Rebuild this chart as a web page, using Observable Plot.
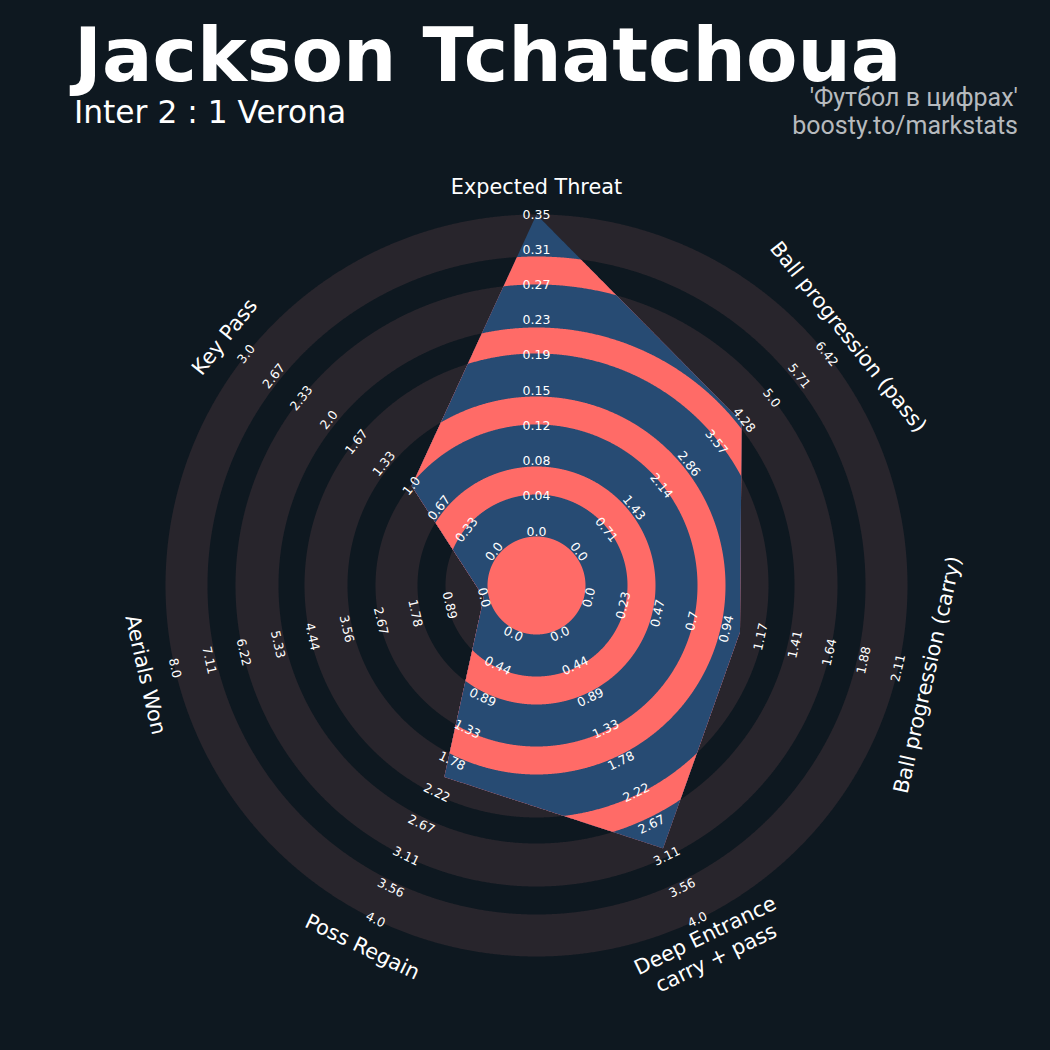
<!DOCTYPE html>
<html><head><meta charset="utf-8">
<script src="https://cdn.jsdelivr.net/npm/d3@7"></script>
<script src="https://cdn.jsdelivr.net/npm/@observablehq/plot@0.6"></script>
<style>
html,body{margin:0;padding:0;background:#0e1820;}
#wrap{position:relative;width:1050px;height:1050px;overflow:hidden;background:#0e1820;}
#chart{position:absolute;left:0;top:0;}
.t{position:absolute;white-space:nowrap;line-height:1;}
#title{left:74px;top:11px;font:bold 75px "DejaVu Sans";color:#ffffff;}
#sub{left:74px;top:94px;font:31.3px "DejaVu Sans";color:#ffffff;}
.cr{right:32px;text-align:right;font:25px Roboto;color:#b6babe;}
</style></head><body>
<div id="wrap">
<div id="chart"></div>
<div class="t" id="title">Jackson Tchatchoua</div>
<div class="t" id="sub">Inter 2 : 1 Verona</div>
<div class="t cr" style="top:83px">'Футбол в цифрах'</div>
<div class="t cr" style="top:111px">boosty.to/markstats</div>
</div>
<script>
// ---- data ----
const params = ["Expected Threat", "Ball progression (pass)", "Ball progression (carry)", "Deep Entrance\ncarry + pass", "Poss Regain", "Aerials Won", "Key Pass"];
const values = [0.35, 4.22, 1.03, 3.0, 2.0, 0.0, 1.0];
const lows   = [0, 0, 0, 0, 0, 0, 0];
const highs  = [0.35, 6.42, 2.11, 4.0, 4.0, 8.0, 3.0];
const tickLabels = [
  ["0.0","0.04","0.08","0.12","0.15","0.19","0.23","0.27","0.31","0.35"],
  ["0.0","0.71","1.43","2.14","2.86","3.57","4.28","5.0","5.71","6.42"],
  ["0.0","0.23","0.47","0.7","0.94","1.17","1.41","1.64","1.88","2.11"],
  ["0.0","0.44","0.89","1.33","1.78","2.22","2.67","3.11","3.56","4.0"],
  ["0.0","0.44","0.89","1.33","1.78","2.22","2.67","3.11","3.56","4.0"],
  ["0.0","0.89","1.78","2.67","3.56","4.44","5.33","6.22","7.11","8.0"],
  ["0.0","0.33","0.67","1.0","1.33","1.67","2.0","2.33","2.67","3.0"]
];

// ---- geometry / style ----
const W = 1050, H = 1050, CX = 536, CY = 585;
const R0 = 54, R1 = 371, RLAB = 400;
const ringEdges = [371, 329, 301, 258, 232, 189, 161, 119, 91, 49];
const BG = "#0e1820", RING = "#28252c", BLUE = "#274b73", RED = "#ff6b67";

const n = params.length;
const ang = k => 2 * Math.PI * k / n;
const vr = values.map((v, k) => Math.min(R1, Math.max(0, R0 + (v - lows[k]) / (highs[k] - lows[k]) * (R1 - R0))));
const verts = vr.map((r, k) => [r * Math.sin(ang(k)), r * Math.cos(ang(k))]);
const cross = (u, v) => u[0] * v[1] - u[1] * v[0];

function shape(cap, clipToRadar) {
  const pts = [];
  const M = 240;
  for (let k = 0; k < n; k++) {
    const P = verts[k], Q = verts[(k + 1) % n];
    const E = [Q[0] - P[0], Q[1] - P[1]];
    for (let j = 0; j < M; j++) {
      const a = ang(k) + (j / M) * (2 * Math.PI / n);
      const d = [Math.sin(a), Math.cos(a)];
      let t = Infinity;
      if (clipToRadar) { const den = cross(d, E); t = Math.abs(den) < 1e-12 ? Infinity : cross(P, E) / den; }
      const r = Math.min(cap, t);
      pts.push({x: r * d[0], y: r * d[1]});
    }
  }
  return pts;
}

const marks = [];
ringEdges.forEach((b, i) => {
  marks.push(Plot.line(shape(b, false), {x: "x", y: "y", fill: i % 2 === 0 ? RING : BG, stroke: "none", curve: "linear-closed"}));
});
ringEdges.forEach((b, i) => {
  marks.push(Plot.line(shape(b, true), {x: "x", y: "y", fill: i % 2 === 0 ? BLUE : RED, stroke: "none", curve: "linear-closed"}));
});

const rotFor = k => {
  const deg = 360 * k / n;
  if (deg > 90 && deg < 270) return deg - 180;
  if (deg >= 270) return deg - 360;
  return deg;
};

const tickData = [];
tickLabels.forEach((labs, k) => {
  labs.forEach((lab, i) => {
    const r = R0 + i / (labs.length - 1) * (R1 - R0);
    tickData.push({x: r * Math.sin(ang(k)), y: r * Math.cos(ang(k)), text: lab, rot: rotFor(k)});
  });
});
const paramData = params.map((p, k) => ({x: RLAB * Math.sin(ang(k)), y: RLAB * Math.cos(ang(k)), text: p, rot: rotFor(k)}));

marks.push(Plot.text(tickData, {x: "x", y: "y", text: "text", rotate: "rot", fill: "#ffffff", fontSize: 12.5, fontFamily: "DejaVu Sans", textAnchor: "middle", lineAnchor: "middle"}));
marks.push(Plot.text(paramData, {x: "x", y: "y", text: "text", rotate: "rot", fill: "#ffffff", fontSize: 20.8, fontFamily: "DejaVu Sans", textAnchor: "middle", lineAnchor: "middle", lineHeight: 1.2}));

const chart = Plot.plot({
  width: W, height: H, margin: 0,
  x: {domain: [-CX, W - CX], axis: null},
  y: {domain: [CY - H, CY], axis: null},
  style: {background: "transparent", overflow: "visible"},
  marks
});
document.getElementById("chart").appendChild(chart);
</script>
</body></html>
